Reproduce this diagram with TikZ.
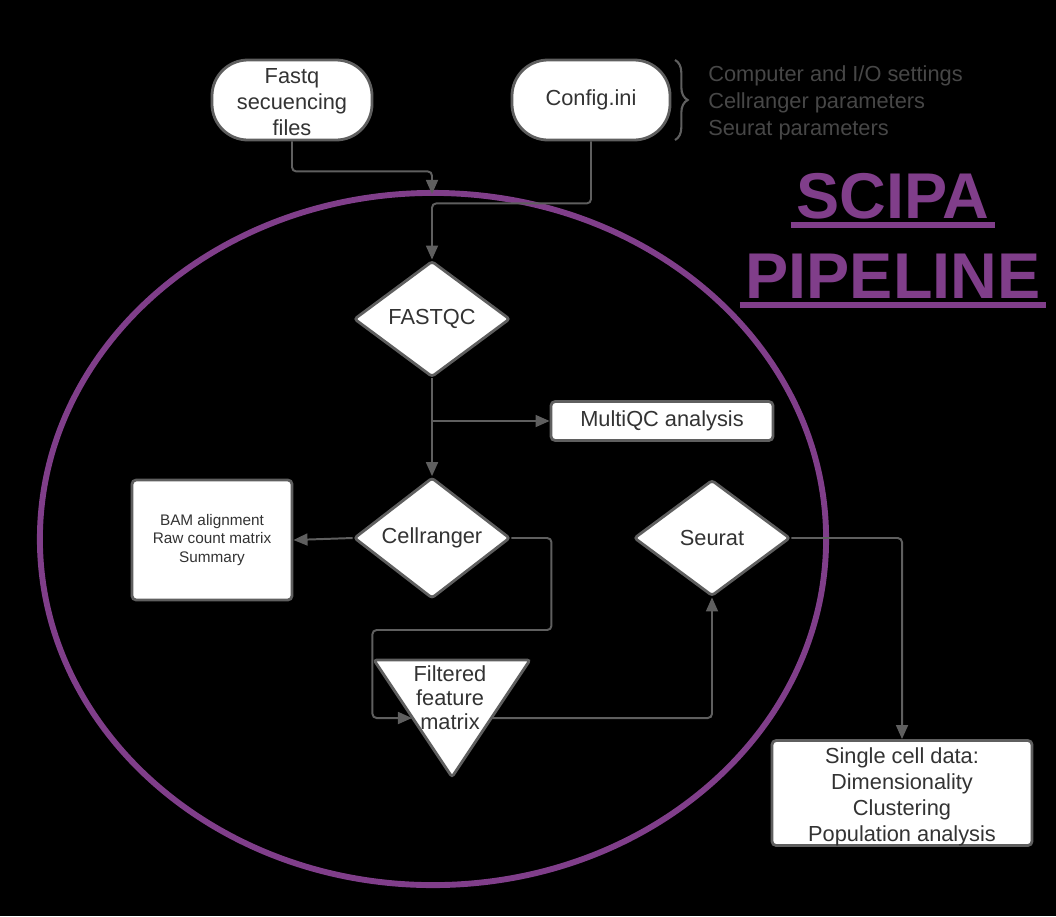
\documentclass[tikz,border=0pt]{standalone}
\usepackage{fontspec}
\setmainfont{Liberation Sans}
\usetikzlibrary{arrows.meta}
\usetikzlibrary{shapes.geometric}
\usetikzlibrary{decorations.pathreplacing}
\definecolor{scipa}{HTML}{803E8A}
\definecolor{edge}{HTML}{5F5F5F}
\definecolor{ink}{HTML}{333333}

\begin{document}
\begin{tikzpicture}[x=0.025cm, y=-0.025cm,
  box/.style={draw=edge, line width=2pt, fill=white, text=ink, align=center, inner sep=0pt, font=\fontsize{15.5}{18.4}\selectfont},
  pill/.style={box, rounded corners=0.9cm, minimum height=2cm},
  rbox/.style={box, rounded corners=3pt},
  decision/.style={box, diamond, rounded corners=2pt, minimum width=3.9cm, minimum height=2.9cm},
  conn/.style={draw=edge, line width=1.4pt, rounded corners=3pt, -{Triangle[length=10pt,width=8.5pt]}},
  title/.style={text=scipa, font=\bfseries\fontsize{46}{50}\selectfont, anchor=base, inner xsep=4pt, inner ysep=0pt}]
\fill[black] (0,0) rectangle (1056,916);
\useasboundingbox (0,0) rectangle (1056,916);

% pipeline frame
\draw[scipa, line width=4.2pt] (433,539) ellipse [x radius=9.825cm, y radius=8.65cm];

% inputs
\node[pill, minimum width=4cm] (fastq) at (292,100) {};
\node[text=ink, align=center, inner sep=0pt, font=\fontsize{15.5}{18.4}\selectfont] (fastqtext) at (292,102)
  {Fastq\\secuencing\\files};
\node[pill, minimum width=3.95cm] (config) at (591,100) {Config.ini};
\draw[edge, line width=1.5pt, decorate, decoration={brace, amplitude=9pt}] (675,60) -- (675,140);
\node[anchor=west, align=left, text=ink!90!white, inner sep=0pt, font=\fontsize{15.5}{19}\selectfont] (params) at (708,103)
  {Computer and I/O settings\\Cellranger parameters\\Seurat parameters};

% title
\node[title] (scipa) at (893,218) {SCIPA};
\node[title] (pipeline) at (893,298) {PIPELINE};
\foreach \t in {scipa, pipeline} {
 \draw[scipa, line width=4.2pt] ([yshift=-0.175cm]\t.base west) -- ([yshift=-0.175cm]\t.base east);
}

% steps
\node[decision] (fastqc) at (432,319) {FASTQC};
\node[rbox, minimum width=5.55cm, minimum height=0.975cm] (multiqc) at (662,421) {MultiQC analysis};
\node[decision] (cellranger) at (432,538) {Cellranger};
\node[rbox, minimum width=4cm, minimum height=3cm, font=\fontsize{10.9}{13.3}\selectfont] (bam) at (212,540)
  {BAM alignment\\Raw count matrix\\Summary};
\draw[draw=edge, line width=2pt, fill=white, rounded corners=2pt] (374,660) -- (530,660) -- (452,777) -- cycle;
\node[text=ink, align=center, inner sep=0pt, font=\fontsize{15.5}{17}\selectfont] (ffm) at (450,698) {Filtered\\feature\\matrix};
\coordinate (ffmin) at (412,718);
\coordinate (ffmout) at (491,718);
\node[decision] (seurat) at (712,538) {Seurat};
\node[rbox, minimum width=6.5cm, minimum height=2.625cm] (single) at (902,793) {};
\node[text=ink, align=center, inner sep=0pt, font=\fontsize{15.5}{18.4}\selectfont] (singletext) at (902,797)
  {Single cell data:\\Dimensionality\\Clustering\\Population analysis};

% connectors
\coordinate (join) at (432,194);
\draw[conn] (fastq.south) -- ++(0,30) -| (join);
\draw[conn] (config.south) -- ++(0,62) -| (fastqc.north);
\draw[conn] (fastqc.south) -- (cellranger.north);
\draw[conn] (fastqc.south |- multiqc.west) -- (multiqc.west);
\draw[conn] (cellranger.west) -- (bam.east);
\draw[conn] (cellranger.east) -- ++(40,0) -- ++(0,92) -- ++(-179,0) |- (ffmin);
\draw[conn] (ffmout) -| (seurat.south);
\draw[conn] (seurat.east) -| (single.north);
\end{tikzpicture}
\end{document}
